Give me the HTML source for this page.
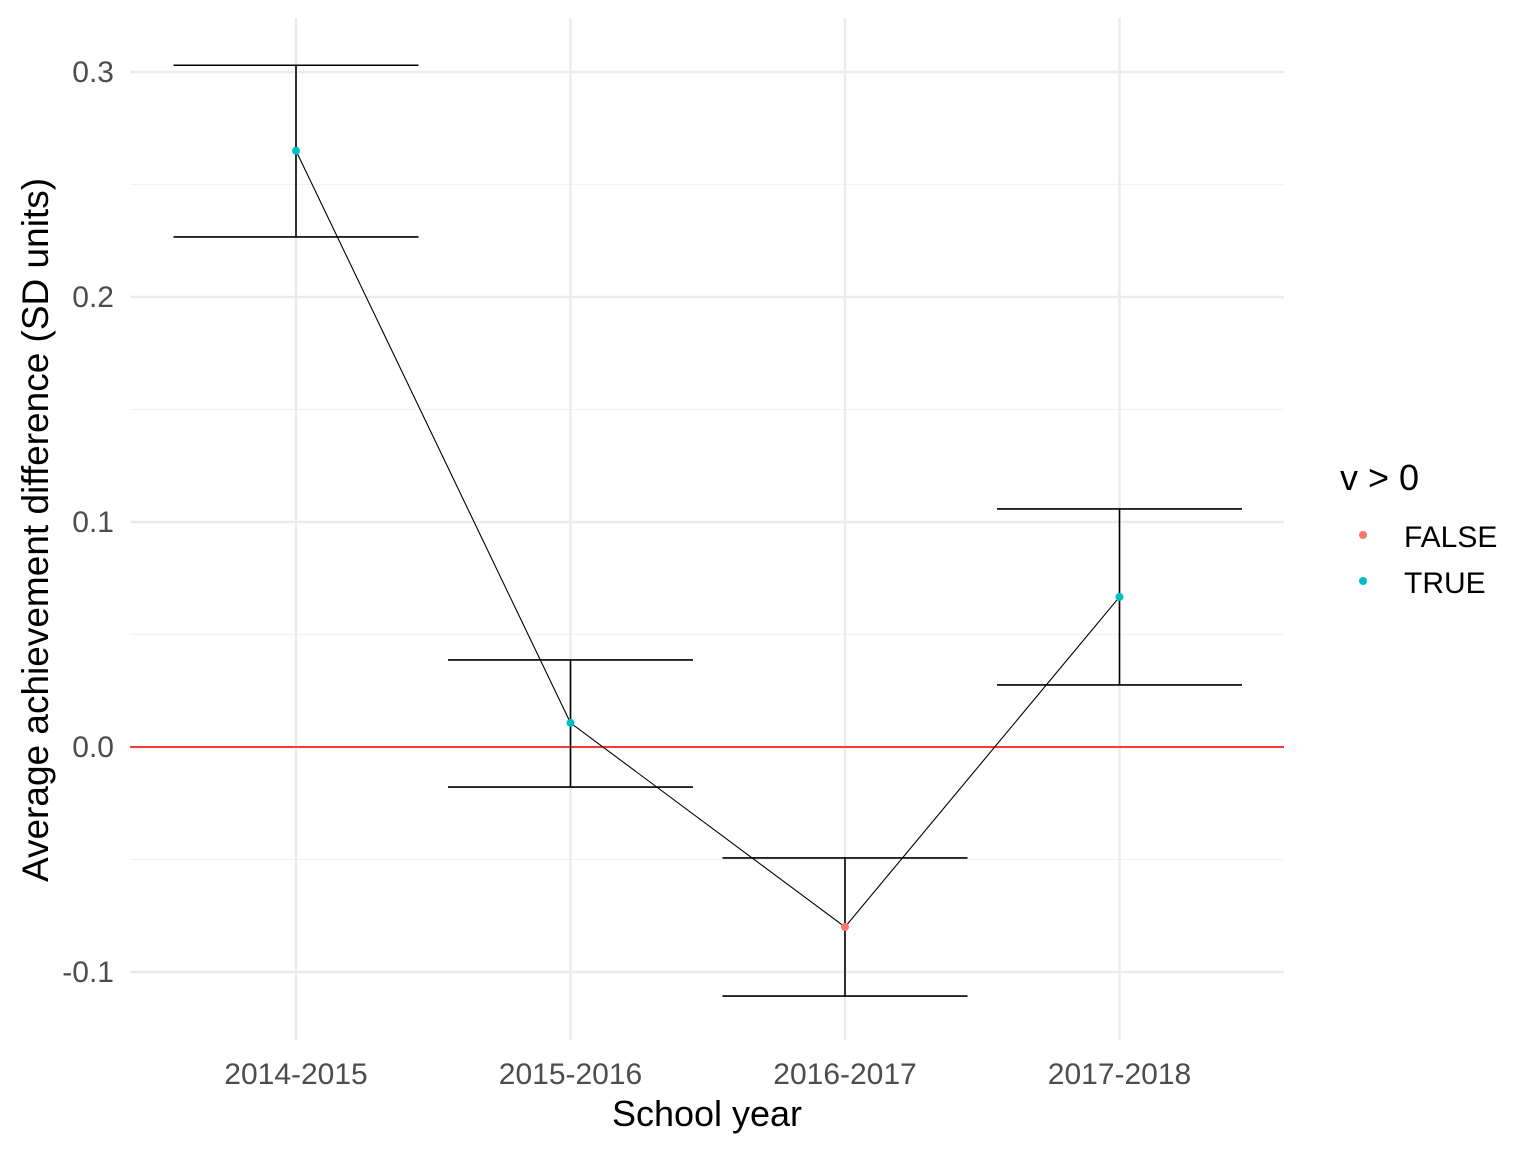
<!DOCTYPE html>
<html><head><meta charset="utf-8"><style>
body{margin:0;background:#fff}
svg text{font-family:"Liberation Sans",Arial,sans-serif}
</style></head><body>
<svg width="1536" height="1152" viewBox="0 0 1536 1152">
<g id="grid"></g>
<g id="marks"></g>
<g id="axes"></g>
<text x="707" y="1126" font-size="36" text-anchor="middle" fill="#000">School year</text>
<text transform="translate(48,530) rotate(-90)" font-size="37" text-anchor="middle" fill="#000">Average achievement difference (SD units)</text>
<g>
<text x="1340" y="490" font-size="36" fill="#000">v &gt; 0</text>
<circle cx="1363" cy="535" r="4" fill="#F8766D"/>
<text x="1404" y="547" font-size="30" fill="#000">FALSE</text>
<circle cx="1363" cy="581" r="4" fill="#00BFC4"/>
<text x="1404" y="593" font-size="30" fill="#000">TRUE</text>
</g>
</svg>
<script>
const categories=["2014-2015","2015-2016","2016-2017","2017-2018"];
const values=[0.265,0.0107,-0.08,0.0667];
const upper=[0.303,0.0387,-0.0493,0.1058];
const lower=[0.2267,-0.0178,-0.1107,0.0276];
const yTicks=[-0.1,0,0.1,0.2,0.3];
const yTickLabels=["-0.1","0.0","0.1","0.2","0.3"];
const yMinor=[-0.05,0.05,0.15,0.25];
const NS="http://www.w3.org/2000/svg";
const px0=130,px1=1284,py0=18,py1=1040;
const x=i=>296+i*274.5;
const y=v=>747-v*2250;
function mk(parent,tag,attrs){const e=document.createElementNS(NS,tag);for(const k in attrs)e.setAttribute(k,attrs[k]);document.getElementById(parent).appendChild(e);return e;}
yMinor.forEach(v=>{const e=mk('grid','line',{x1:px0,x2:px1,y1:y(v),y2:y(v),stroke:'#f2f2f2','stroke-width':1.2});

});
yTicks.forEach((v,i)=>{const e=mk('grid','line',{x1:px0,x2:px1,y1:y(v),y2:y(v),stroke:'#ebebeb','stroke-width':2.4});


const t=mk('axes','text',{x:114,y:y(v)+10,'font-size':30,'text-anchor':'end',fill:'#4d4d4d'});t.textContent=yTickLabels[i];

});
categories.forEach((c,i)=>{const e=mk('grid','line',{x1:x(i),x2:x(i),y1:py0,y2:py1,stroke:'#ebebeb','stroke-width':2.4});


const t=mk('axes','text',{x:x(i),y:1084,'font-size':30,'text-anchor':'middle',fill:'#4d4d4d'});t.textContent=c;

});
const z=mk('marks','line',{x1:px0,x2:px1,y1:y(0),y2:y(0),stroke:'#ff0000','stroke-width':1.6});


const hw=122.5;
categories.forEach((c,i)=>{
[[x(i),y(upper[i]),x(i),y(lower[i])],[x(i)-hw,y(upper[i]),x(i)+hw,y(upper[i])],[x(i)-hw,y(lower[i]),x(i)+hw,y(lower[i])]].forEach(a=>{
const l=mk('marks','line',{x1:a[0],y1:a[1],x2:a[2],y2:a[3],stroke:'#000','stroke-width':1.6});

});});
const p=mk('marks','polyline',{points:values.map((v,i)=>x(i)+','+y(v)).join(' '),fill:'none',stroke:'#000','stroke-width':1.1});


values.forEach((v,i)=>{const c=mk('marks','circle',{cx:x(i),cy:y(v),r:4,fill:v>0?'#00BFC4':'#F8766D'});

});
</script>
</body></html>
